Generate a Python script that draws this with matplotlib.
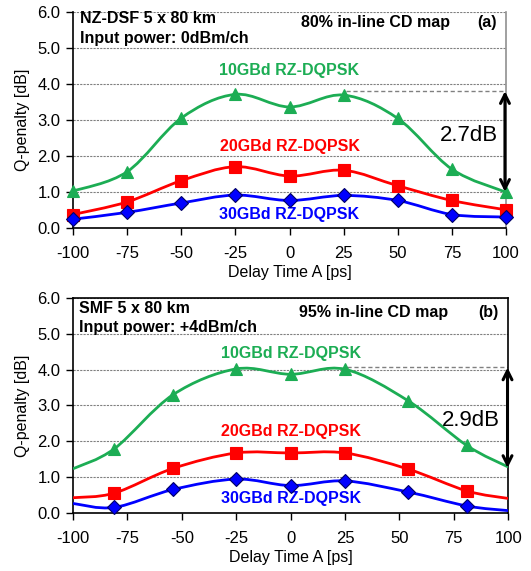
import numpy as np
import matplotlib.pyplot as plt
from matplotlib.path import Path
from matplotlib.patches import PathPatch

plt.rcParams['font.family'] = ['Liberation Sans', 'DejaVu Sans']
plt.rcParams['axes.unicode_minus'] = False

# panel (a): NZ-DSF, markers at every point
xa = [-100, -75, -50, -25, 0, 25, 50, 75, 100]
green_a = [1.02, 1.56, 3.05, 3.71, 3.36, 3.69, 3.04, 1.63, 0.99]
red_a = [0.37, 0.72, 1.31, 1.70, 1.44, 1.60, 1.17, 0.76, 0.50]
blue_a = [0.24, 0.43, 0.69, 0.91, 0.76, 0.90, 0.76, 0.37, 0.30]

# panel (b): SMF, curve ends at the axis edges without markers
xb = [-100, -81, -54, -25, 0, 25, 54, 81, 100]
green_b = [1.23, 1.79, 3.30, 4.02, 3.87, 4.01, 3.13, 1.88, 1.28]
red_b = [0.42, 0.55, 1.24, 1.67, 1.67, 1.67, 1.22, 0.61, 0.40]
blue_b = [0.26, 0.15, 0.65, 0.94, 0.76, 0.89, 0.58, 0.19, 0.06]

GREEN = '#1cad54'
RED = '#ff0000'
BLUE = '#0000ff'


def smooth_path(x, y):
    # excel-like smoothed line: cubic bezier through the points
    p = np.column_stack([x, y]).astype(float)
    pts = np.vstack([p[0], p, p[-1]])
    verts = [p[0]]
    codes = [Path.MOVETO]
    for i in range(1, len(pts) - 2):
        p0, p1, p2, p3 = pts[i - 1], pts[i], pts[i + 1], pts[i + 2]
        verts += [p1 + (p2 - p0) / 6, p2 - (p3 - p1) / 6, p2]
        codes += [Path.CURVE4] * 3
    return Path(verts, codes)


def curve(ax, x, y, color, marker, ms, mark_idx, edge):
    ax.add_patch(PathPatch(smooth_path(x, y), facecolor='none', edgecolor=color,
                           lw=2.0, clip_on=True, zorder=3))
    ax.plot([x[i] for i in mark_idx], [y[i] for i in mark_idx], linestyle='none',
            marker=marker, ms=ms, color=color, mec=edge, mew=0.8, zorder=4, clip_on=False)


def setup(ax, right_color, top_on):
    ax.set_xlim(-100, 100)
    ax.set_ylim(0, 6)
    ax.set_xticks([-100, -75, -50, -25, 0, 25, 50, 75, 100])
    ax.set_yticks(np.arange(0, 6.01, 1.0))
    ax.set_yticklabels(['%.1f' % v for v in np.arange(0, 6.01, 1.0)])
    ax.yaxis.grid(True, linestyle=(0, (2, 1)), color='#808080', lw=0.8)
    ax.set_axisbelow(True)
    ax.tick_params(direction='out', length=5, width=1, labelsize=12, pad=4)
    ax.tick_params(axis='x', pad=8)
    for s in ['left', 'bottom']:
        ax.spines[s].set_color('black')
        ax.spines[s].set_linewidth(1.2)
    ax.spines['right'].set_color(right_color)
    ax.spines['right'].set_linewidth(1.2)
    ax.spines['top'].set_visible(top_on)
    ax.spines['top'].set_linewidth(1.2)
    ax.set_xlabel('Delay Time A [ps]', fontsize=11.5, labelpad=3)
    ax.set_ylabel('Q-penalty [dB]', fontsize=11.5, labelpad=5)


fig = plt.figure(figsize=(5.31, 5.71), dpi=100)
ax1 = fig.add_axes([0.1375, 0.601, 0.8155, 0.378])
ax2 = fig.add_axes([0.1375, 0.102, 0.8195, 0.376])

arrow = dict(arrowstyle='<->', color='black', lw=2.2, mutation_scale=16, shrinkA=0, shrinkB=0)

# ---- (a)
setup(ax1, '#909090', False)
all_a = list(range(len(xa)))
curve(ax1, xa, green_a, GREEN, '^', 9, all_a, GREEN)
curve(ax1, xa, red_a, RED, 's', 8, all_a, RED)
curve(ax1, xa, blue_a, BLUE, 'D', 7, all_a, '#000066')
ax1.plot([26, 100], [3.79, 3.79], color='#808080', lw=1.0, ls=(0, (3, 2)), zorder=2)
ax1.annotate('', xy=(99.5, 1.0), xytext=(99.5, 3.8), arrowprops=arrow, zorder=5)
ax1.text(83, 2.57, '2.7dB', fontsize=16, ha='center', va='center')
ax1.text(0, 4.38, '10GBd RZ-DQPSK', color=GREEN, fontsize=11.5, fontweight='bold', ha='center', va='center')
ax1.text(0, 2.25, '20GBd RZ-DQPSK', color=RED, fontsize=11.5, fontweight='bold', ha='center', va='center')
ax1.text(0, 0.36, '30GBd RZ-DQPSK', color=BLUE, fontsize=11.5, fontweight='bold', ha='center', va='center')
ax1.text(-96.6, 5.81, 'NZ-DSF 5 x 80 km', fontsize=11.5, fontweight='bold', va='center')
ax1.text(-96.6, 5.26, 'Input power: 0dBm/ch', fontsize=11.5, fontweight='bold', va='center')
ax1.text(39.5, 5.72, '80% in-line CD map', fontsize=11.5, fontweight='bold', ha='center', va='center')
ax1.text(91.4, 5.72, '(a)', fontsize=11.5, fontweight='bold', ha='center', va='center')

# ---- (b)
setup(ax2, 'black', True)
inner = list(range(1, len(xb) - 1))
curve(ax2, xb, green_b, GREEN, '^', 9, inner, GREEN)
curve(ax2, xb, red_b, RED, 's', 8, inner, RED)
curve(ax2, xb, blue_b, BLUE, 'D', 7, inner, '#000066')
ax2.plot([26, 100], [4.06, 4.06], color='#808080', lw=1.0, ls=(0, (3, 2)), zorder=2)
ax2.annotate('', xy=(99.7, 1.25), xytext=(99.7, 4.06), arrowprops=arrow, zorder=5)
ax2.text(83, 2.57, '2.9dB', fontsize=16, ha='center', va='center')
ax2.text(0, 4.44, '10GBd RZ-DQPSK', color=GREEN, fontsize=11.5, fontweight='bold', ha='center', va='center')
ax2.text(0, 2.28, '20GBd RZ-DQPSK', color=RED, fontsize=11.5, fontweight='bold', ha='center', va='center')
ax2.text(0, 0.40, '30GBd RZ-DQPSK', color=BLUE, fontsize=11.5, fontweight='bold', ha='center', va='center')
ax2.text(-97.4, 5.72, 'SMF 5 x 80 km', fontsize=11.5, fontweight='bold', va='center')
ax2.text(-97.4, 5.19, 'Input power: +4dBm/ch', fontsize=11.5, fontweight='bold', va='center')
ax2.text(38, 5.6, '95% in-line CD map', fontsize=11.5, fontweight='bold', ha='center', va='center')
ax2.text(91, 5.6, '(b)', fontsize=11.5, fontweight='bold', ha='center', va='center')

fig.savefig('out.png', dpi=100)
